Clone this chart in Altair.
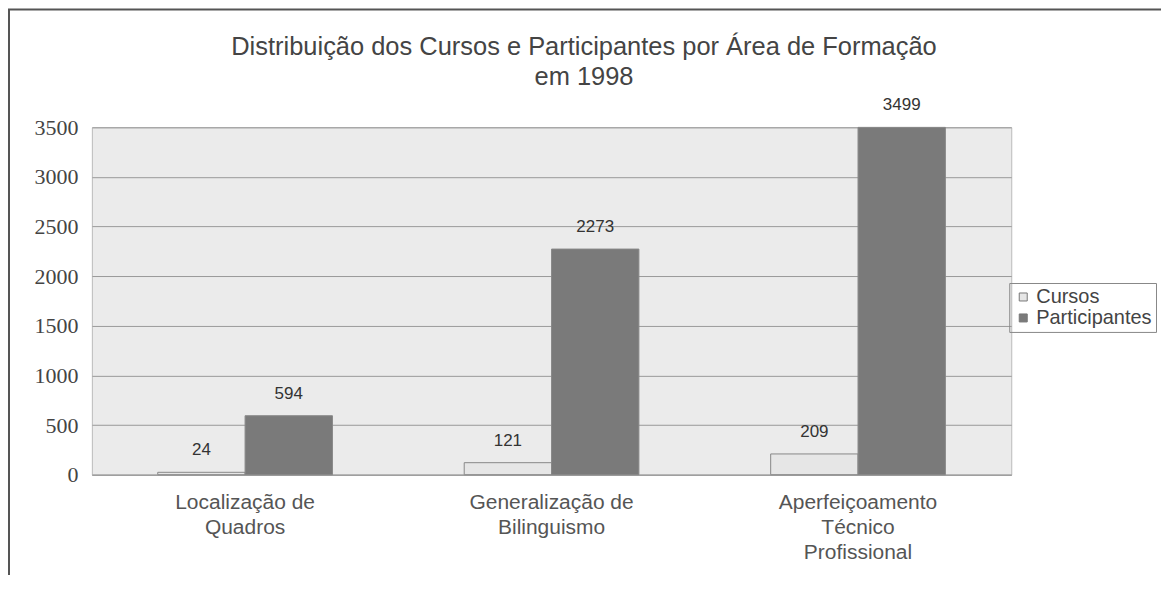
import altair as alt
import pandas as pd

categories = ["Localização de Quadros", "Generalização de Bilinguismo", "Aperfeiçoamento Técnico Profissional"]
series = ["Cursos", "Participantes"]
cursos = [24, 121, 209]
participantes = [594, 2273, 3499]
y_ticks = [0, 500, 1000, 1500, 2000, 2500, 3000, 3500]
title_lines = ["Distribuição dos Cursos e Participantes por Área de Formação", "em 1998"]

rows = []
for i, c in enumerate(categories):
    rows.append({"area": c, "serie": "Cursos", "valor": cursos[i]})
    rows.append({"area": c, "serie": "Participantes", "valor": participantes[i]})
df = pd.DataFrame(rows)

label_expr = ("datum.value == 'Localização de Quadros' ? ['Localização de','Quadros'] : "
              "datum.value == 'Generalização de Bilinguismo' ? ['Generalização de','Bilinguismo'] : "
              "['Aperfeiçoamento','Técnico','Profissional']")

W = 921

x = alt.X("area:N", sort=categories,
          scale=alt.Scale(paddingInner=0.43, paddingOuter=0.215),
          axis=alt.Axis(title=None, labelExpr=label_expr, labelAngle=0,
                        labelFont="Liberation Sans", labelFontSize=21,
                        labelColor="#555555", labelLineHeight=25, labelPadding=17,
                        domainColor="#999999", ticks=False, labelLimit=300))
y = alt.Y("valor:Q", scale=alt.Scale(domain=[0, 3500], nice=False),
          axis=alt.Axis(title=None, values=y_ticks, format="d", labelFont="Liberation Serif",
                        labelFontSize=22, labelColor="#444444", labelPadding=14,
                        ticks=False, domain=False, gridColor="#9a9a9a",
                        gridOpacity=1, gridWidth=1))

color = alt.Color("serie:N", sort=series,
                  scale=alt.Scale(domain=series, range=["#e6e6e6", "#7a7a7a"]),
                  legend=alt.Legend(title=None, orient="none", legendX=W - 2, legendY=156,
                                    labelFont="Liberation Sans", labelFontSize=20,
                                    labelColor="#444444", symbolType="square",
                                    symbolSize=64, symbolStrokeColor="#777777",
                                    symbolStrokeWidth=1, strokeColor="#888888",
                                    padding=4, rowPadding=1, labelOffset=3))

bars = alt.Chart(df).mark_bar(stroke="#888888", strokeWidth=1).encode(
    x=x, y=y, color=color,
    xOffset=alt.XOffset("serie:N", sort=series, scale=alt.Scale(paddingInner=0, paddingOuter=0)),
)

text = alt.Chart(df).mark_text(font="Liberation Sans", fontSize=17, color="#333333",
                               dy=-22, baseline="middle").encode(
    x=alt.X("area:N", sort=categories),
    xOffset=alt.XOffset("serie:N", sort=series),
    y="valor:Q",
    text="valor:Q",
)

tdf = pd.DataFrame({"t": title_lines, "i": [0, 1]})
title1 = alt.Chart(tdf).transform_filter("datum.i == 0").mark_text(
    font="Liberation Sans", fontSize=25.5, color="#444444", baseline="middle",
    align="center", clip=False).encode(x=alt.value(493), y=alt.value(-80), text="t:N")
title2 = alt.Chart(tdf).transform_filter("datum.i == 1").mark_text(
    font="Liberation Sans", fontSize=25.5, color="#444444", baseline="middle",
    align="center", clip=False).encode(x=alt.value(493), y=alt.value(-50), text="t:N")

frame = alt.Chart(pd.DataFrame({"k": [0]})).mark_rect(
    fill=None, stroke="#555555", strokeWidth=2, clip=False
).encode(x=alt.value(-83), x2=alt.value(1100), y=alt.value(-118), y2=alt.value(470))

chart = alt.layer(frame, bars, text, title1, title2).properties(
    width=W, height=348,
    autosize=alt.AutoSizeParams(type="none"),
    padding={"left": 84, "top": 119, "right": 150, "bottom": 100},
    background="white",
).configure_view(fill="#ebebeb", stroke="#bbbbbb")

chart.save("out.html", embed_options={"renderer": "svg", "actions": False})
